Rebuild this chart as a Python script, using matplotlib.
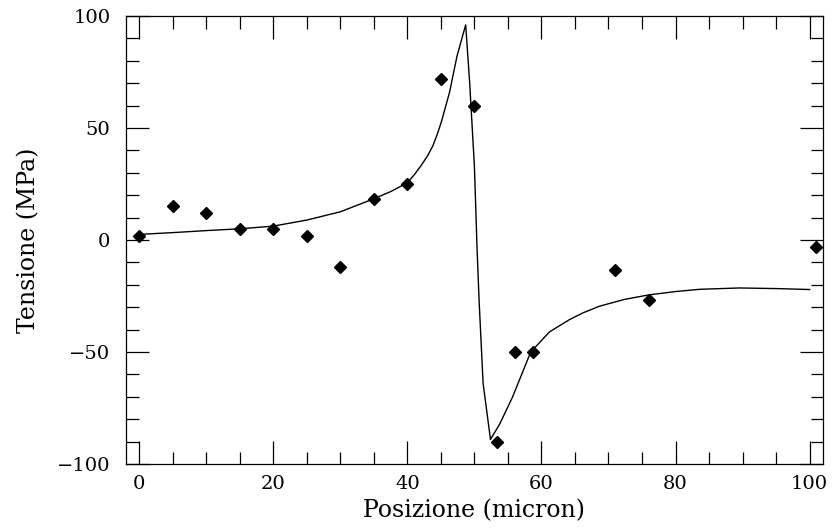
import matplotlib
matplotlib.use("Agg")
import matplotlib.pyplot as plt
from matplotlib.ticker import MultipleLocator

# punti misurati (posizione in micron, tensione in MPa)
pos_misure = [0, 5, 10, 15, 20, 25, 30, 35, 40, 45, 50, 53.4, 56, 58.7, 71, 76, 101]
tens_misure = [2, 15, 12, 5, 5, 2, -12, 18.5, 25, 72, 60, -90, -50, -50, -13.3, -26.7, -3.3]

# curva teorica
pos_curva = [0, 5, 10, 15, 20, 25, 30, 35, 37.5, 40, 41, 42, 43, 43.8, 44.5, 45.1, 46.3,
             47.4, 48.0, 48.7, 49.3, 50.0, 50.4, 50.7, 51.3, 52.4, 53.8, 55.7,
             58.4, 61.2, 64.2, 66.2, 68.7, 72.4, 76, 80, 83.6, 89.5, 95.5, 100]
tens_curva = [2.5, 3.3, 4.2, 5.0, 6.2, 8.9, 12.6, 18.4, 21.6, 25.5, 29, 33, 37.5, 42, 47.5,
              53, 66, 82, 88.5, 96, 70, 33, -4, -27, -64, -89, -82, -70,
              -50, -41, -35.5, -32.5, -29.5, -26.5, -24.5, -23, -22, -21.4, -21.7, -22.1]

plt.rcParams['font.family'] = 'DejaVu Serif'

fig = plt.figure(figsize=(8.33, 5.31), dpi=100)
ax = fig.add_axes([0.151, 0.126, 0.837, 0.844])

ax.plot(pos_curva, tens_curva, color='black', linewidth=1.0)
ax.plot(pos_misure, tens_misure, linestyle='none', marker='D', markersize=6,
        color='black', clip_on=False)

ax.set_xlim(-2, 102)
ax.set_ylim(-100, 100)
ax.xaxis.set_major_locator(MultipleLocator(20))
ax.xaxis.set_minor_locator(MultipleLocator(5))
ax.yaxis.set_major_locator(MultipleLocator(50))
ax.yaxis.set_minor_locator(MultipleLocator(10))
ax.tick_params(which='both', direction='in', top=True, right=True, width=0.9,
               labelsize=14)
ax.tick_params(which='major', length=16.5)
ax.tick_params(which='minor', length=9)
ax.tick_params(axis='x', which='major', pad=8)
ax.tick_params(axis='y', which='major', pad=11)
for s in ax.spines.values():
    s.set_linewidth(0.9)

ax.set_xlabel('Posizione (micron)', fontsize=17, labelpad=4)
ax.set_ylabel('Tensione (MPa)', fontsize=17, labelpad=12)

fig.savefig('out.png', dpi=100)
